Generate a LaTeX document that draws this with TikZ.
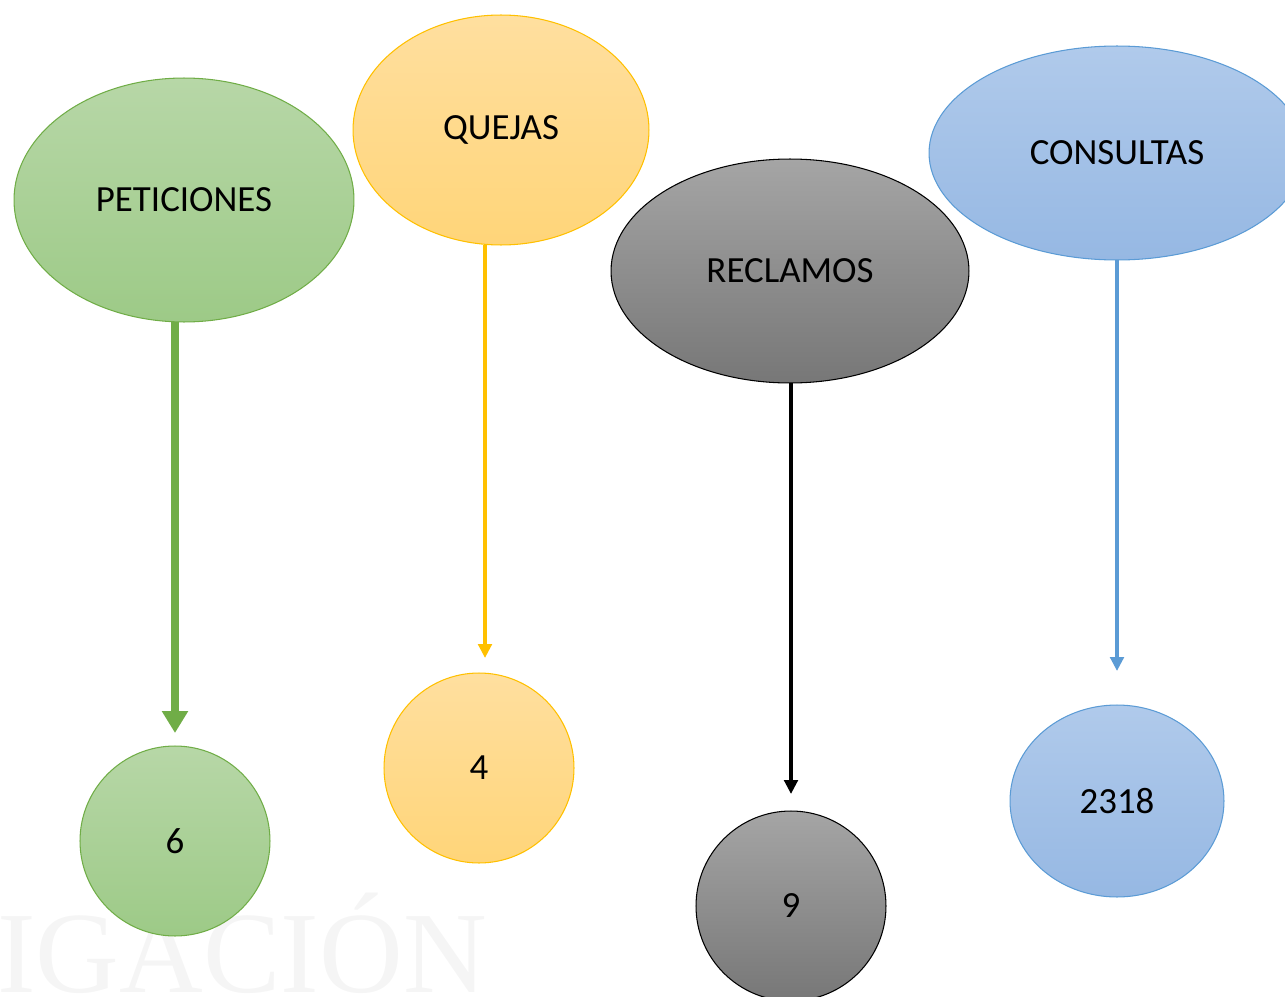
\documentclass[tikz,border=0pt]{standalone}
\usepackage{fontspec}
\setmainfont{Carlito}
\newfontfamily\markfont{Liberation Serif}
\usetikzlibrary{arrows.meta,shapes.geometric}
\definecolor{petline}{HTML}{70AD47}
\definecolor{quejline}{HTML}{FFC000}
\definecolor{consline}{HTML}{5B9BD5}
\tikzset{
    bubble/.style = {
        ellipse,
        align=center,
        inner sep=0pt,
        outer sep=0mm,
        line width=0.6pt,
        font=\fontsize{21}{25}\selectfont,
        text=black
    },
    petbubble/.style = {
        bubble,
        draw=petline,
        top color={rgb,255:red,183;green,215;blue,167},
        bottom color={rgb,255:red,157;green,202;blue,135}
    },
    quejbubble/.style = {
        bubble,
        draw=quejline,
        top color={rgb,255:red,255;green,223;blue,159},
        bottom color={rgb,255:red,255;green,213;blue,121}
    },
    reclbubble/.style = {
        bubble,
        draw=black,
        top color={rgb,255:red,165;green,165;blue,165},
        bottom color={rgb,255:red,119;green,119;blue,119}
    },
    consbubble/.style = {
        bubble,
        draw=consline,
        top color={rgb,255:red,176;green,202;blue,235},
        bottom color={rgb,255:red,150;green,184;blue,227}
    },
    thinarrow/.style = {
        line width=2pt,
        -{Triangle[width=0.27cm,length=0.28cm]}
    },
    thickarrow/.style = {
        line width=4pt,
        -{Triangle[width=0.5cm,length=0.44cm]}
    }
}

\begin{document}
\begin{tikzpicture}[x=0.02cm,y=-0.02cm]
    \useasboundingbox (0,0) rectangle (1285,997);
    \clip (0,0) rectangle (1285,997);
    \node [anchor=base west, text=black!4, font=\markfont\fontsize{66}{72}\selectfont, inner sep=0pt] (mark) at (-3,992) {IGACIÓN};

    \node [petbubble, minimum width=6.8cm, minimum height=4.88cm] (pet) at (184,200) {PETICIONES};
    \node [quejbubble, minimum width=5.92cm, minimum height=4.6cm] (quej) at (501,130) {QUEJAS};
    \node [reclbubble, minimum width=7.16cm, minimum height=4.48cm] (recl) at (790,271) {RECLAMOS};
    \node [consbubble, minimum width=7.52cm, minimum height=4.28cm] (cons) at (1117,153) {CONSULTAS};

    \node [petbubble, minimum width=3.8cm, minimum height=3.8cm] (six) at (175,841) {6};
    \node [quejbubble, minimum width=3.8cm, minimum height=3.8cm] (four) at (479,768) {4};
    \node [reclbubble, minimum width=3.8cm, minimum height=3.8cm] (nine) at (791,906) {9};
    \node [consbubble, minimum width=4.28cm, minimum height=3.84cm] (total) at (1117,801) {2318};

    \draw [thickarrow, petline, shorten >=0.26cm] (six.north |- pet.south) -- (six.north);
    \draw [thinarrow, quejline, shorten >=0.3cm] ([xshift=0.12cm]four.north |- quej.south) -- ([xshift=0.12cm]four.north);
    \draw [thinarrow, black, shorten >=0.34cm] (nine.north |- recl.south) -- (nine.north);
    \draw [thinarrow, consline, shorten >=0.68cm] (total.north |- cons.south) -- (total.north);
\end{tikzpicture}
\end{document}
